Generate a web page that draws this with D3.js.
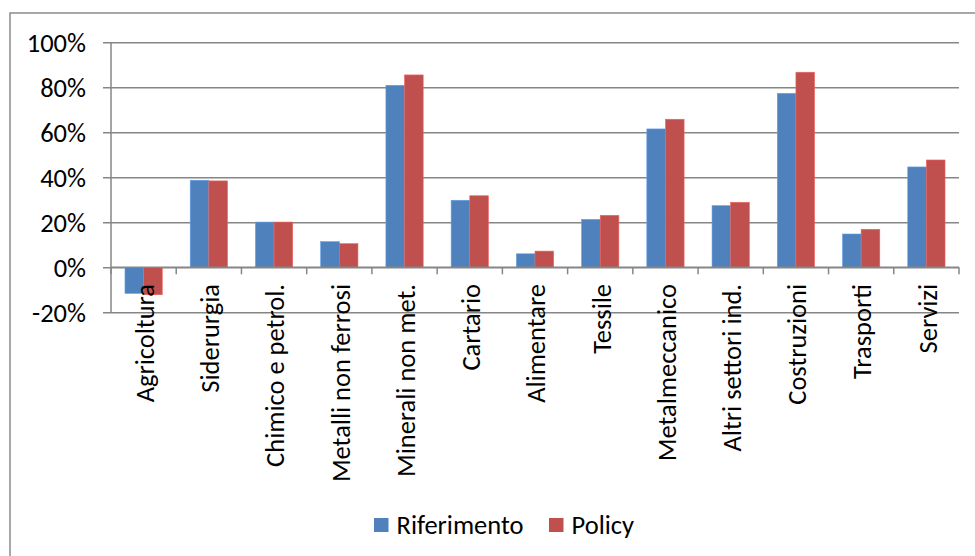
<!DOCTYPE html>
<html>
<head>
<meta charset="utf-8">
<script src="https://cdn.jsdelivr.net/npm/d3@7"></script>
<style>
  html, body { margin: 0; padding: 0; background: #fff; }
  svg { display: block; }
  text { font-family: Carlito, Lato, "Liberation Sans", sans-serif; fill: #000; }
</style>
</head>
<body>
<svg id="chart" width="975" height="556"></svg>
<script>
// Sector categories and the two scenario series (share, %)
const categories = [
  "Agricoltura", "Siderurgia", "Chimico e petrol.", "Metalli non ferrosi",
  "Minerali non met.", "Cartario", "Alimentare", "Tessile", "Metalmeccanico",
  "Altri settori ind.", "Costruzioni", "Trasporti", "Servizi"
];
const riferimento = [-11.6, 38.7, 20.1, 11.4, 80.9, 29.8, 6.0, 21.3, 61.5, 27.4, 77.3, 14.8, 44.6];
const policy      = [-12.2, 38.4, 20.1, 10.5, 85.5, 31.8, 7.2, 23.1, 65.8, 28.9, 86.7, 16.9, 47.7];
const seriesNames = ["Riferimento", "Policy"];
const seriesColors = ["#4F81BD", "#C0504D"];
const yTicks = [-20, 0, 20, 40, 60, 80, 100];

const fontSize = 26.5;
const svg = d3.select("#chart");
const plot = { left: 111, right: 959, top: 42.3, bottom: 312.3 };

// Outer chart frame
svg.append("rect")
  .attr("x", 10).attr("y", 13)
  .attr("width", 990).attr("height", 600)
  .attr("fill", "none").attr("stroke", "#8c8c8c").attr("stroke-width", 1.5);

const y = d3.scaleLinear().domain([-20, 100]).range([plot.bottom, plot.top]);
const x = d3.scaleBand().domain(categories).range([plot.left, plot.right]).paddingInner(0).paddingOuter(0);
const xs = d3.scaleBand().domain(d3.range(seriesNames.length)).range([0, x.bandwidth()])
  .paddingInner(0).paddingOuter(0.75);

// Horizontal gridlines with outward ticks on the value axis
const yAxis = d3.axisLeft(y).tickValues(yTicks).tickFormat(d => d + "%")
  .tickSize(-(plot.right - plot.left)).tickPadding(25);
const gy = svg.append("g").attr("transform", `translate(${plot.left},0)`).call(yAxis);
gy.select(".domain").remove();
gy.selectAll(".tick line").attr("stroke", "#868686").attr("stroke-width", 1.5).attr("x1", -8);
gy.selectAll(".tick text").attr("font-size", fontSize).attr("fill", "#000").attr("dy", "0.35em");

// Value axis line
svg.append("line")
  .attr("x1", plot.left).attr("x2", plot.left)
  .attr("y1", plot.top).attr("y2", plot.bottom)
  .attr("stroke", "#868686").attr("stroke-width", 1.5);

// Bars
const rows = categories.map((c, i) => ({ c, vals: [riferimento[i], policy[i]] }));
const groups = svg.append("g").selectAll("g").data(rows).join("g")
  .attr("transform", d => `translate(${x(d.c)},0)`);
groups.selectAll("rect").data(d => d.vals.map((v, k) => ({ v, k }))).join("rect")
  .attr("x", d => xs(d.k))
  .attr("width", xs.bandwidth())
  .attr("y", d => y(Math.max(0, d.v)))
  .attr("height", d => Math.abs(y(d.v) - y(0)))
  .attr("fill", d => seriesColors[d.k])
  .attr("stroke", d => d3.color(seriesColors[d.k]).brighter(0.6))
  .attr("stroke-width", 0.6);

// Category axis at zero with boundary ticks
const y0 = y(0);
svg.append("line")
  .attr("x1", plot.left).attr("x2", plot.right)
  .attr("y1", y0).attr("y2", y0)
  .attr("stroke", "#868686").attr("stroke-width", 1.5);
const bounds = categories.map(c => x(c)).concat([plot.right]);
svg.append("g").selectAll("line").data(bounds).join("line")
  .attr("x1", d => d).attr("x2", d => d)
  .attr("y1", y0).attr("y2", y0 + 7)
  .attr("stroke", "#868686").attr("stroke-width", 1.5);

// Rotated category labels
svg.append("g").selectAll("text").data(categories).join("text")
  .attr("transform", d => `translate(${x(d) + x.bandwidth() / 2 + 1},284) rotate(-90)`)
  .attr("text-anchor", "end")
  .attr("dy", "0.35em")
  .attr("font-size", fontSize)
  .text(d => d);

// Legend
const legend = svg.append("g").attr("transform", "translate(374,518)");
const legendX = [0, 175];
seriesNames.forEach((name, k) => {
  const g = legend.append("g").attr("transform", `translate(${legendX[k]},0)`);
  g.append("rect").attr("width", 14.5).attr("height", 14).attr("fill", seriesColors[k]);
  g.append("text").attr("x", 22.5).attr("y", 7).attr("dy", "0.35em")
    .attr("font-size", fontSize).text(name);
});
</script>
</body>
</html>
